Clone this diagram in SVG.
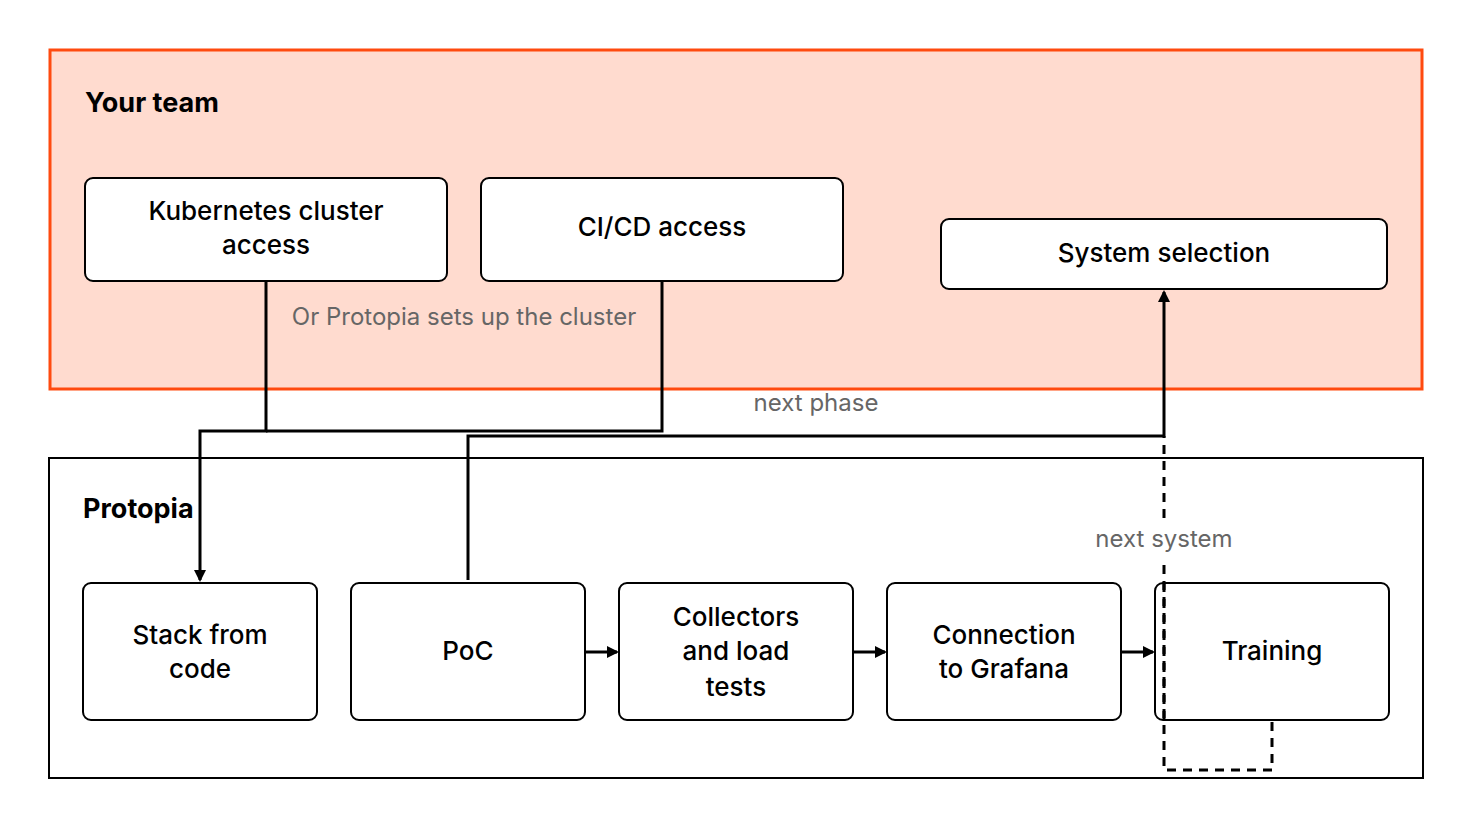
<svg xmlns="http://www.w3.org/2000/svg" width="1472" height="828" viewBox="0 0 1472 828">
<style>
.node rect{fill:#fff;stroke:#000;stroke-width:2}
.t{font-family:Inter,"Liberation Sans",sans-serif;font-size:26px;font-weight:500;fill:#000;text-anchor:middle}
.h{font-family:Inter,"Liberation Sans",sans-serif;font-size:27px;font-weight:700;fill:#000}
.l{font-family:Inter,"Liberation Sans",sans-serif;font-size:24px;fill:#666;text-anchor:middle}
.c{fill:none;stroke:#000;stroke-width:3}
.d{fill:none;stroke:#000;stroke-width:3;stroke-dasharray:9 7}
</style>
<defs><marker id="a" markerWidth="12" markerHeight="12" refX="10" refY="6" orient="auto" markerUnits="userSpaceOnUse"><path d="M0,0 L12,6 L0,12 z" fill="#000"/></marker></defs>
<rect width="1472" height="828" fill="#fff"/>
<g id="yourteam"><rect x="50" y="50" width="1372" height="339" fill="#ffdbcf" stroke="#ff4a0f" stroke-width="3"/><text class="h" x="85" y="112">Your team</text></g>
<g id="protopia"><rect x="49" y="458" width="1374" height="320" fill="#fff" stroke="#000" stroke-width="2"/><text class="h" x="83" y="518">Protopia</text></g>
<g id="connectors">
<path class="c" d="M266,281 V431 H200 V580" marker-end="url(#a)"/>
<path class="c" d="M662,281 V431 H266"/>
<path class="c" d="M468,580 V436 H1164 V292" marker-end="url(#a)"/>
<path class="d" d="M1272,722 V770 H1164 V565"/>
<path class="d" d="M1164,518 V436"/>
<path class="c" d="M586,652 H617" marker-end="url(#a)"/>
<path class="c" d="M854,652 H885" marker-end="url(#a)"/>
<path class="c" d="M1122,652 H1153" marker-end="url(#a)"/>
<text class="l" x="464" y="325">Or Protopia sets up the cluster</text>
<text class="l" x="816" y="411">next phase</text>
<text class="l" x="1164" y="547">next system</text>
</g>
<g id="k8s" class="node"><rect x="85" y="178" width="362" height="103" rx="8"/><text class="t" x="266" y="220">Kubernetes cluster</text><text class="t" x="266" y="254">access</text></g>
<g id="cicd" class="node"><rect x="481" y="178" width="362" height="103" rx="8"/><text class="t" x="662" y="236">CI/CD access</text></g>
<g id="sys" class="node"><rect x="941" y="219" width="446" height="70" rx="8"/><text class="t" x="1164" y="262">System selection</text></g>
<g id="stack" class="node"><rect x="83" y="583" width="234" height="137" rx="8"/><text class="t" x="200" y="644">Stack from</text><text class="t" x="200" y="678">code</text></g>
<g id="poc" class="node"><rect x="351" y="583" width="234" height="137" rx="8"/><text class="t" x="468" y="660">PoC</text></g>
<g id="coll" class="node"><rect x="619" y="583" width="234" height="137" rx="8"/><text class="t" x="736" y="626">Collectors</text><text class="t" x="736" y="660">and load</text><text class="t" x="736" y="696">tests</text></g>
<g id="graf" class="node"><rect x="887" y="583" width="234" height="137" rx="8"/><text class="t" x="1004" y="644">Connection</text><text class="t" x="1004" y="678">to Grafana</text></g>
<g id="train" class="node"><rect x="1155" y="583" width="234" height="137" rx="8" fill-opacity="0"/><text class="t" x="1272" y="660">Training</text></g>
<path class="d" d="M1164,583 V722"/>
</svg>
